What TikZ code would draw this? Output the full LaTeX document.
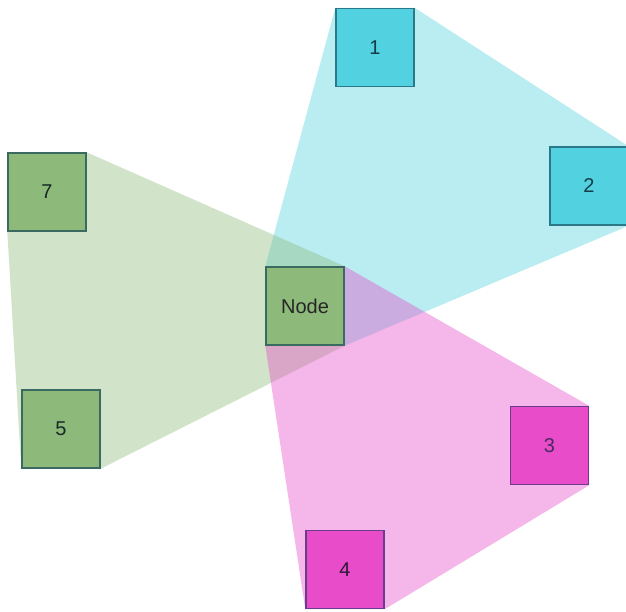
\documentclass[tikz,border=0pt]{standalone}
\usepackage{fontspec}
\setsansfont{Liberation Sans}
\usetikzlibrary{backgrounds}
\definecolor{aqua}{HTML}{52D2E0}
\definecolor{aquaedge}{HTML}{2A7888}
\definecolor{sage}{HTML}{8DB97A}
\definecolor{sageedge}{HTML}{3A6A60}
\definecolor{orchid}{HTML}{E84CC8}
\definecolor{orchidedge}{HTML}{6A3C8C}
\begin{document}
\begin{tikzpicture}[x=1pt,y=-1pt,font=\sffamily\fontsize{20}{20}\selectfont,
  box/.style={draw,line width=1.4pt,minimum size=78pt,inner sep=0pt},
  hull/.style={fill opacity=.4}]
  \useasboundingbox (0,0) rectangle (626,611);
  % cluster members
  \node[box,fill=sage,draw=sageedge,text=black!85] (hub) at (305,306) {Node};
  \node[box,fill=aqua,draw=aquaedge,text=aquaedge!50!black] (n1) at (375,47.5) {1};
  \node[box,fill=aqua,draw=aquaedge,text=aquaedge!50!black] (n2) at (589,186) {2};
  \node[box,fill=orchid,draw=orchidedge,text=orchidedge!70!black] (n3) at (549.5,445.5) {3};
  \node[box,fill=orchid,draw=orchidedge,text=orchidedge!40!black] (n4) at (345,569.5) {4};
  \node[box,fill=sage,draw=sageedge,text=sageedge!40!black] (n5) at (61,429) {5};
  \node[box,fill=sage,draw=sageedge,text=sageedge!40!black] (n7) at (47,192) {7};
  % hulls behind the boxes
  \begin{scope}[on background layer]
    \fill[white] (0,0) rectangle (626,611);
    \fill[hull,aqua] (n1.north west) -- (n1.north east) -- (n2.north east) -- (n2.south east)
      -- (hub.south east) -- (hub.south west) -- (hub.north west) -- cycle;
    \fill[hull,sage] (n7.north west) -- (n7.north east) -- (hub.north east) -- (hub.south east)
      -- (n5.south east) -- (n5.south west) -- (n7.south west) -- cycle;
    \fill[hull,orchid] (hub.north west) -- (hub.north east) -- (n3.north east) -- (n3.south east)
      -- (n4.south east) -- (n4.south west) -- (hub.south west) -- cycle;
  \end{scope}
\end{tikzpicture}
\end{document}
